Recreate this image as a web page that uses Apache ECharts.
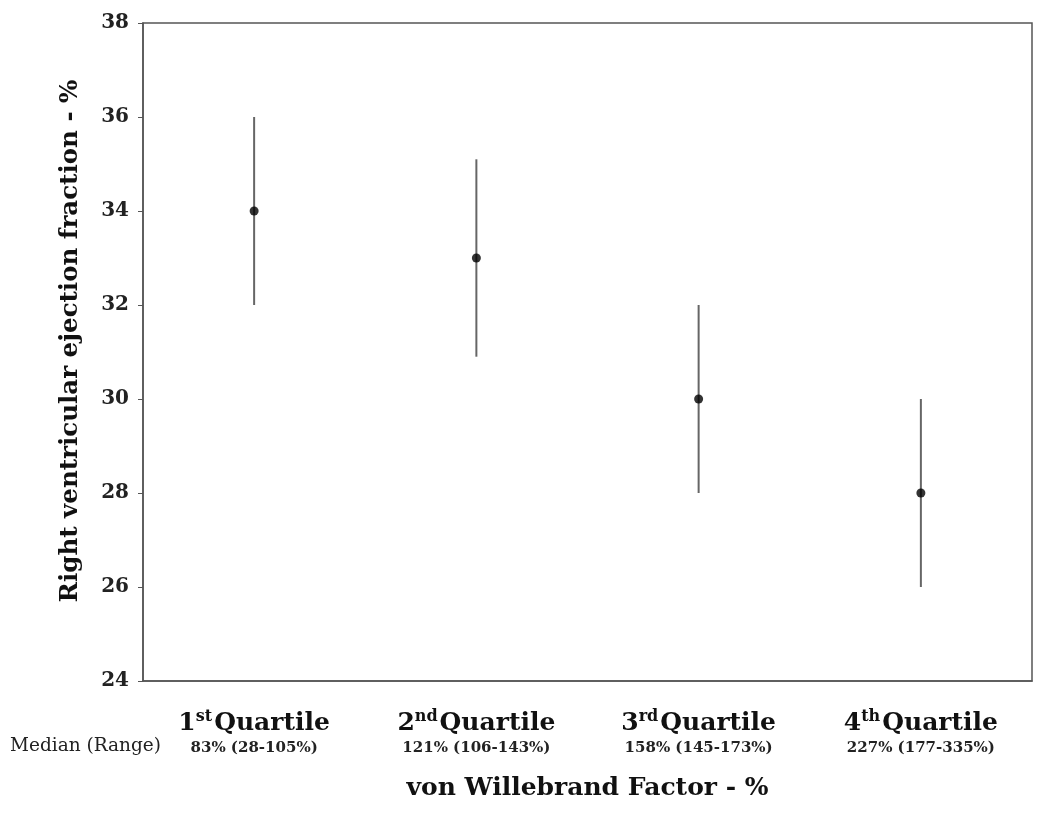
<!DOCTYPE html>
<html>
<head>
<meta charset="utf-8">
<script src="https://cdn.jsdelivr.net/npm/echarts@6/dist/echarts.min.js"></script>
<style>
  html, body { margin: 0; padding: 0; background: #fff; }
  #chart { width: 1050px; height: 818px; }
</style>
</head>
<body>
<div id="chart"></div>
<script>
// quartiles of von Willebrand factor
const ordinals = ['1', '2', '3', '4']
const suffixes = ['st', 'nd', 'rd', 'th']
const medians = ['83% (28-105%)', '121% (106-143%)', '158% (145-173%)', '227% (177-335%)']
// right ventricular ejection fraction
const means = [34, 33, 30, 28]
const lower = [32, 30.9, 28, 26]
const upper = [36, 35.1, 32, 30]
const yTicks = [24, 26, 28, 30, 32, 34, 36, 38]

const font = '"DejaVu Serif", "Liberation Serif", serif'
const categories = ordinals.map((o, i) => i)

const chart = echarts.init(document.getElementById('chart'))

chart.setOption({
  backgroundColor: '#fff',
  animation: false,
  grid: { left: 143, right: 18, top: 23, bottom: 137, show: true, borderColor: '#555', borderWidth: 1.5 },
  xAxis: {
    type: 'category',
    data: categories,
    axisLine: { lineStyle: { color: '#555', width: 1.5 } },
    axisTick: { alignWithLabel: true, length: 5, lineStyle: { color: '#555' } },
    axisLabel: {
      margin: 28,
      fontFamily: font,
      formatter: function (v, i) {
        return '{n|' + ordinals[i] + '}{s|' + suffixes[i] + '}{q|Quartile}\n{m|' + medians[i] + '}'
      },
      rich: {
        n: { fontSize: 25, fontWeight: 'bold', color: '#111', fontFamily: font, verticalAlign: 'bottom' },
        s: { fontSize: 16, fontWeight: 'bold', color: '#111', fontFamily: font, verticalAlign: 'top', padding: [0, 2, 11, 0] },
        q: { fontSize: 25, fontWeight: 'bold', color: '#111', fontFamily: font, verticalAlign: 'bottom' },
        m: { fontSize: 15, fontWeight: 'bold', color: '#222', fontFamily: font, lineHeight: 24 }
      }
    },
    name: 'von Willebrand Factor - %',
    nameLocation: 'middle',
    nameGap: 95,
    nameTextStyle: { fontSize: 25, fontWeight: 'bold', color: '#111', fontFamily: font }
  },
  yAxis: {
    type: 'value',
    min: yTicks[0],
    max: yTicks[yTicks.length - 1],
    interval: 2,
    splitLine: { show: false },
    axisLine: { show: true, lineStyle: { color: '#555', width: 1.5 } },
    axisTick: { show: true, length: 5, lineStyle: { color: '#555' } },
    axisLabel: { fontSize: 20, fontWeight: 'bold', color: '#222', fontFamily: font, margin: 14 },
    name: 'Right ventricular ejection fraction - %',
    nameLocation: 'middle',
    nameGap: 60,
    nameTextStyle: { fontSize: 24.5, fontWeight: 'bold', color: '#111', fontFamily: font, padding: [0, 0, 0, 22] }
  },
  graphic: [{
    type: 'text',
    left: 10,
    top: 737,
    style: { text: 'Median (Range)', fontSize: 18.5, fill: '#222', fontFamily: font }
  }],
  series: [
    {
      type: 'custom',
      data: categories.map((c, i) => [c, lower[i], upper[i]]),
      renderItem: function (params, api) {
        const lo = api.coord([api.value(0), api.value(1)])
        const hi = api.coord([api.value(0), api.value(2)])
        return {
          type: 'line',
          shape: { x1: lo[0], y1: lo[1], x2: hi[0], y2: hi[1] },
          style: { stroke: '#666', lineWidth: 2 }
        }
      },
      z: 2
    },
    {
      type: 'scatter',
      data: categories.map((c, i) => [c, means[i]]),
      symbol: 'circle',
      symbolSize: 9,
      itemStyle: { color: '#000' },
      z: 3
    }
  ]
})
</script>
</body>
</html>
